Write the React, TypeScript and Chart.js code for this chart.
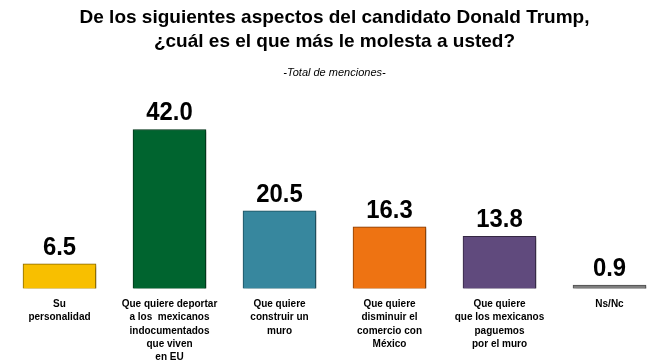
import React, { useEffect, useRef } from "react";
import { Chart, registerables } from "chart.js";

Chart.register(...registerables);

const titleLines = [
  "De los siguientes aspectos del candidato Donald Trump,",
  "¿cuál es el que más le molesta a usted?",
];
const subtitleText = "-Total de menciones-";

const categories: string[][] = [
  ["Su", "personalidad"],
  ["Que quiere deportar", "a los  mexicanos", "indocumentados", "que viven", "en EU"],
  ["Que quiere", "construir un", "muro"],
  ["Que quiere", "disminuir el", "comercio con", "México"],
  ["Que quiere", "que los mexicanos", "paguemos", "por el muro"],
  ["Ns/Nc"],
];
const values = [6.5, 42.0, 20.5, 16.3, 13.8, 0.9];
const barColors = ["#F8BF00", "#00642F", "#37879E", "#EE7312", "#604A7D", "#7F7F7F"];
const borderColors = ["#8A6A00", "#00361A", "#1D4F5E", "#8A3F05", "#352843", "#505050"];

const FONT = "'Liberation Sans', Arial, sans-serif";

const shadowPlugin = {
  id: "barShadow",
  beforeDatasetsDraw(chart: any) {
    const ctx = chart.ctx;
    ctx.save();
    ctx.shadowColor = "rgba(0,0,0,0.45)";
    ctx.shadowBlur = 3;
    ctx.shadowOffsetX = 2;
    ctx.shadowOffsetY = 2;
  },
  afterDatasetsDraw(chart: any) {
    chart.ctx.restore();
  },
};

const valueLabelPlugin = {
  id: "valueLabels",
  afterDraw(chart: any) {
    const ctx = chart.ctx;
    const meta = chart.getDatasetMeta(0);
    meta.data.forEach((bar: any, i: number) => {
      const v = chart.data.datasets[0].data[i] as number;
      ctx.save();
      ctx.translate(bar.x, bar.y - 9);
      ctx.scale(0.9, 1);
      ctx.font = `bold 26.5px ${FONT}`;
      ctx.fillStyle = "#000";
      ctx.textAlign = "center";
      ctx.textBaseline = "alphabetic";
      ctx.fillText(v.toFixed(1), 0, 0);
      ctx.restore();
    });
  },
};

export default function App() {
  const ref = useRef<HTMLCanvasElement>(null);
  useEffect(() => {
    document.body.style.margin = "0";
    const chart = new Chart(ref.current!, {
      type: "bar",
      data: {
        labels: categories,
        datasets: [
          {
            data: values,
            backgroundColor: barColors,
            borderColor: borderColors,
            borderWidth: 1,
            barThickness: 73,
            clip: false as any,
          },
        ],
      },
      options: {
        animation: false,
        responsive: false,
        layout: { padding: { left: 59.5, right: 51.5, top: 0, bottom: 0 } },
        plugins: {
          legend: { display: false },
          tooltip: { enabled: false },
          title: {
            display: true,
            text: titleLines,
            color: "#000",
            font: { family: FONT, size: 19, weight: "bold", lineHeight: 24 / 19 },
            padding: { top: 6, bottom: 12.5 },
          },
          subtitle: {
            display: true,
            text: subtitleText,
            color: "#000",
            font: { family: FONT, size: 11, style: "italic", lineHeight: 13 / 11 },
            padding: { top: 0, bottom: 19.7 },
          },
        },
        scales: {
          x: {
            offset: false,
            grid: { display: false, drawTicks: false },
            border: { display: false },
            ticks: {
              autoSkip: false,
              maxRotation: 0,
              minRotation: 0,
              padding: 9,
              color: "#000",
              font: { family: FONT, size: 10, weight: "bold", lineHeight: 13.3 / 10 },
            },
            afterFit: (scale: any) => {
              scale.height = 75.5;
            },
          },
          y: {
            display: false,
            min: 0,
            max: 50,
          },
        },
      },
      plugins: [shadowPlugin, valueLabelPlugin],
    });
    return () => chart.destroy();
  }, []);
  return <canvas ref={ref} width={661} height={364} style={{ display: "block" }} />;
}
